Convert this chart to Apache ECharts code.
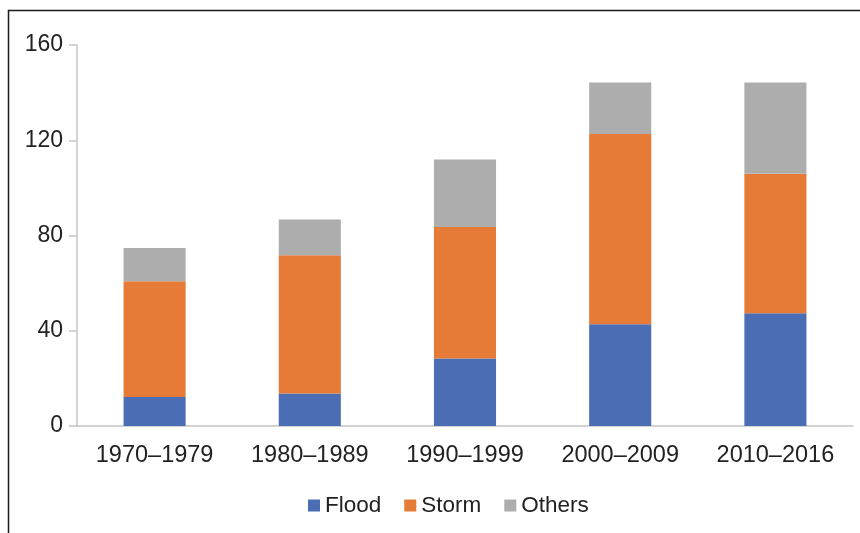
<!DOCTYPE html>
<html>
<head>
<meta charset="utf-8">
<script src="https://cdn.jsdelivr.net/npm/echarts@6/dist/echarts.min.js"></script>
<style>
html,body{margin:0;padding:0;background:#fff;}
#chart{width:860px;height:533px;}
</style>
</head>
<body>
<div id="chart"></div>
<script>
var categories = ['1970–1979', '1980–1989', '1990–1999', '2000–2009', '2010–2016'];
var flood = [12.2, 13.6, 28.3, 42.7, 47.4];
var storm = [48.6, 58.1, 55.3, 79.9, 58.5];
var others = [14.0, 15.0, 28.3, 21.7, 38.4];
var yTicks = [0, 40, 80, 120, 160];

var font = 'Liberation Sans, Arial, sans-serif';
var chart = echarts.init(document.getElementById('chart'), null, {renderer: 'canvas'});
chart.setOption({
  animation: false,
  backgroundColor: '#fff',
  graphic: [{
    type: 'rect', silent: true,
    shape: {x: 8.5, y: 10.5, width: 900, height: 600},
    style: {fill: 'none', stroke: '#1a1a1a', lineWidth: 1.5}
  }],
  grid: {left: 77, right: 7, top: 45, bottom: 107},
  legend: {
    left: 303, top: 489,
    itemWidth: 12, itemHeight: 12, itemGap: 23,
    icon: 'rect',
    textStyle: {fontFamily: font, fontSize: 22.5, color: '#222', padding: [0, 0, 0, 0]},
    data: ['Flood', 'Storm', 'Others']
  },
  xAxis: {
    type: 'category',
    data: categories,
    axisLine: {lineStyle: {color: '#c4c4c4', width: 1.5}},
    axisTick: {show: false},
    axisLabel: {fontFamily: font, fontSize: 23.5, color: '#222', margin: 18}
  },
  yAxis: {
    type: 'value',
    min: yTicks[0], max: yTicks[yTicks.length - 1], interval: 40,
    axisLine: {show: true, lineStyle: {color: '#c4c4c4', width: 1.5}},
    axisTick: {show: true, length: 8, lineStyle: {color: '#c4c4c4', width: 1.5}},
    splitLine: {show: false},
    axisLabel: {fontFamily: font, fontSize: 23, color: '#222', margin: 14}
  },
  series: [
    {name: 'Flood', type: 'bar', stack: 'a', barWidth: '40%', data: flood, itemStyle: {color: '#4a6db4'}},
    {name: 'Storm', type: 'bar', stack: 'a', barWidth: '40%', data: storm, itemStyle: {color: '#e57b36'}},
    {name: 'Others', type: 'bar', stack: 'a', barWidth: '40%', data: others, itemStyle: {color: '#adadad'}}
  ]
});
</script>
</body>
</html>
